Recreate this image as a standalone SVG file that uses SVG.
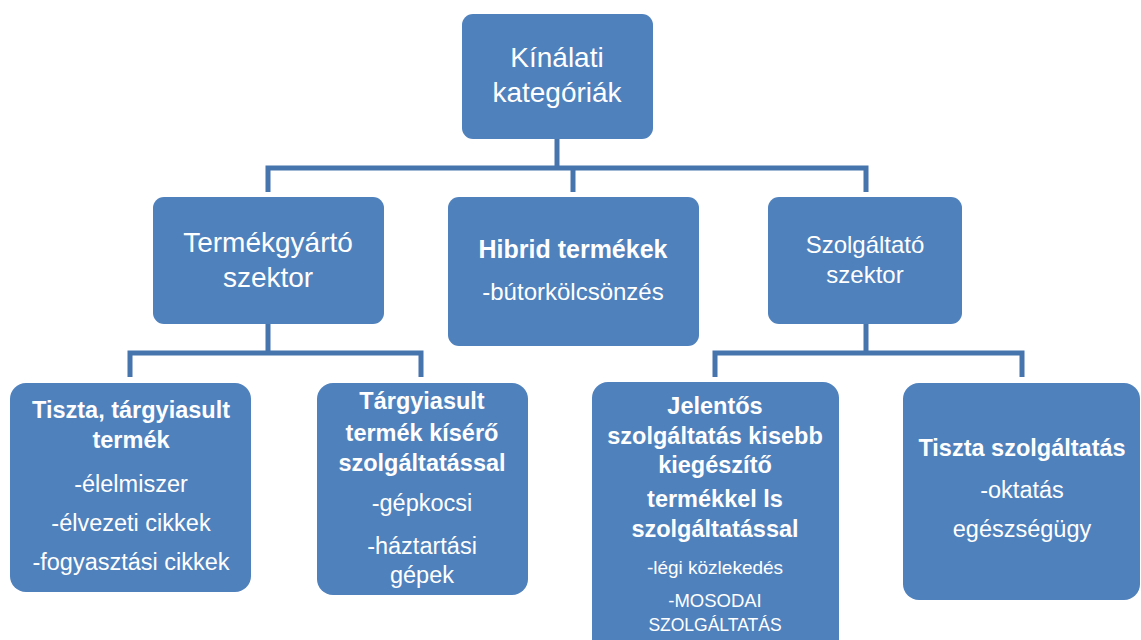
<svg xmlns="http://www.w3.org/2000/svg" width="1141" height="640" viewBox="0 0 1141 640">
  <style>
    .box { fill: #4F81BD; }
    .link { fill: none; stroke: #4675AE; stroke-width: 5; stroke-linejoin: miter; }
    text { font-family: "Liberation Sans", Arial, sans-serif; fill: #FFFFFF; text-anchor: middle; }
    .b { font-weight: bold; }
  </style>
  <rect width="1141" height="640" fill="#FFFFFF"/>

  <!-- tree connectors -->
  <g id="connectors">
    <path class="link" d="M557 139 V168"/>
    <path class="link" d="M268 192 V168 H866 V192"/>
    <path class="link" d="M573 168 V192"/>
    <path class="link" d="M268 324 V353"/>
    <path class="link" d="M130 377 V353 H421 V377"/>
    <path class="link" d="M866 324 V353"/>
    <path class="link" d="M715 377 V353 H1022 V377"/>
  </g>

  <g id="root">
    <rect class="box" x="462" y="14" width="191" height="125" rx="11"/>
    <text x="557" y="67" font-size="28">Kínálati</text>
    <text x="557" y="102" font-size="28">kategóriák</text>
  </g>

  <g id="termekgyarto">
    <rect class="box" x="153" y="197" width="231" height="127" rx="11"/>
    <text x="268" y="252" font-size="28">Termékgyártó</text>
    <text x="268" y="287" font-size="28">szektor</text>
  </g>

  <g id="hibrid">
    <rect class="box" x="448" y="197" width="251" height="149" rx="11"/>
    <text class="b" x="573" y="258" font-size="25">Hibrid termékek</text>
    <text x="573" y="300" font-size="24">-bútorkölcsönzés</text>
  </g>

  <g id="szolgaltato">
    <rect class="box" x="768" y="197" width="194" height="127" rx="11"/>
    <text x="865" y="253" font-size="24">Szolgáltató</text>
    <text x="865" y="283" font-size="24">szektor</text>
  </g>

  <g id="tiszta-termek">
    <rect class="box" x="10" y="383" width="241" height="209" rx="16"/>
    <text class="b" x="131" y="418" font-size="23.5">Tiszta, tárgyiasult</text>
    <text class="b" x="131" y="448" font-size="23.5">termék</text>
    <text x="131" y="492" font-size="23.5">-élelmiszer</text>
    <text x="131" y="531" font-size="23.5">-élvezeti cikkek</text>
    <text x="131" y="570" font-size="23.5">-fogyasztási cikkek</text>
  </g>

  <g id="kisero-szolgaltatas">
    <rect class="box" x="317" y="383" width="211" height="212" rx="16"/>
    <text class="b" x="422" y="409" font-size="23.5">Tárgyiasult</text>
    <text class="b" x="422" y="441" font-size="23.5">termék kísérő</text>
    <text class="b" x="422" y="471" font-size="23.5">szolgáltatással</text>
    <text x="422" y="511" font-size="23.5">-gépkocsi</text>
    <text x="422" y="554" font-size="23.5">-háztartási</text>
    <text x="422" y="583" font-size="23.5">gépek</text>
  </g>

  <g id="jelentos-szolgaltatas">
    <rect class="box" x="592" y="382" width="247" height="290" rx="16"/>
    <text class="b" x="715" y="414" font-size="23.5">Jelentős</text>
    <text class="b" x="715" y="444" font-size="23.5">szolgáltatás kisebb</text>
    <text class="b" x="715" y="473" font-size="23.5">kiegészítő</text>
    <text class="b" x="715" y="507" font-size="23.5">termékkel ls</text>
    <text class="b" x="715" y="537" font-size="23.5">szolgáltatással</text>
    <text x="715" y="574" font-size="19">-légi közlekedés</text>
    <text x="715" y="607" font-size="18.5">-MOSODAI</text>
    <text x="715" y="631" font-size="17.5">SZOLGÁLTATÁS</text>
  </g>

  <g id="tiszta-szolgaltatas">
    <rect class="box" x="903" y="383" width="237" height="217" rx="16"/>
    <text class="b" x="1022" y="456" font-size="23.5">Tiszta szolgáltatás</text>
    <text x="1022" y="498" font-size="23.5">-oktatás</text>
    <text x="1022" y="537" font-size="23.5">egészségügy</text>
  </g>
</svg>
